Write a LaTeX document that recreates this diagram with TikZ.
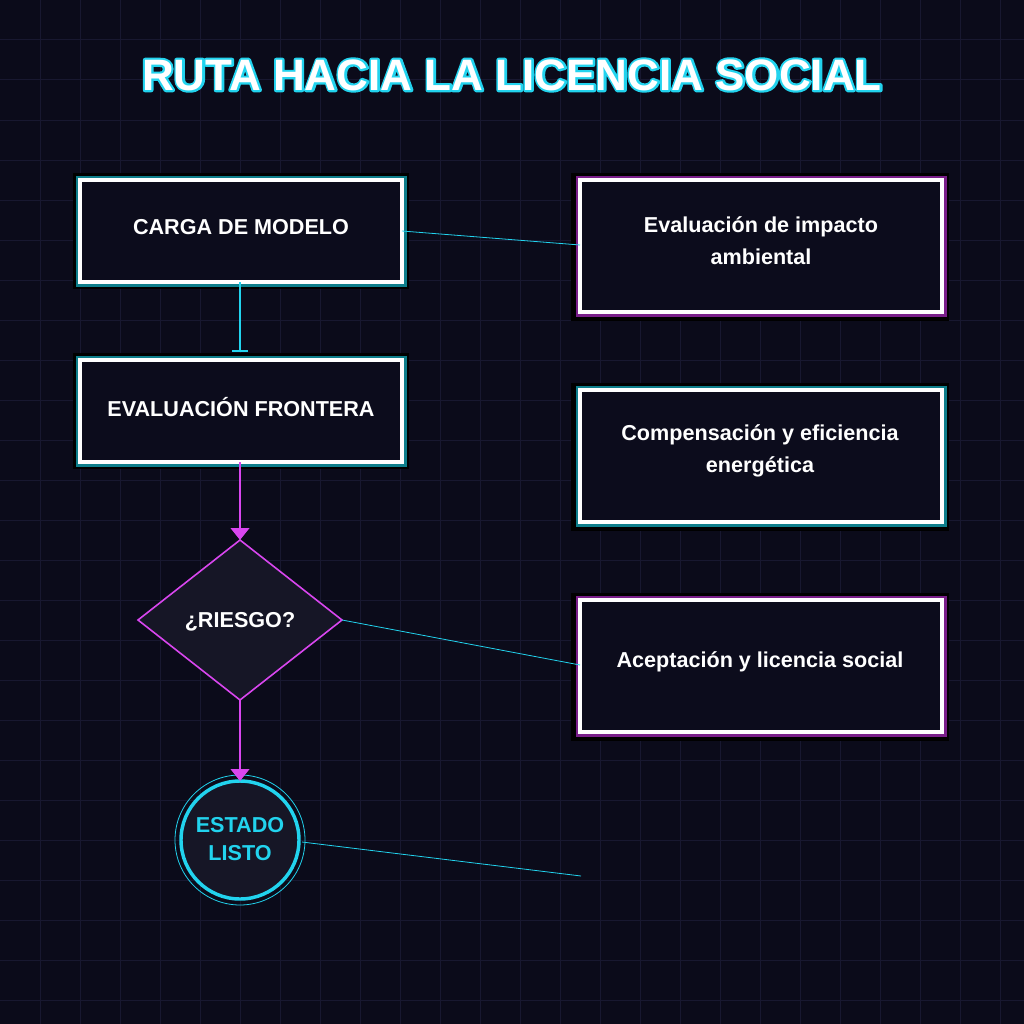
\documentclass[tikz,border=0pt]{standalone}
\usepackage{fontspec}
\setmainfont{Liberation Sans}
\usetikzlibrary{arrows.meta}
\definecolor{bg}{HTML}{0B0B1A}
\definecolor{gridc}{HTML}{181830}
\definecolor{cy}{HTML}{22D3EE}
\definecolor{tealg}{HTML}{0E7F8C}
\definecolor{mg}{HTML}{D946EF}
\definecolor{mgg}{HTML}{7A1F8A}
\definecolor{boxf}{HTML}{0C0C1C}
\definecolor{dfill}{HTML}{161626}
\tikzset{
  x=0.75pt,y=-0.75pt,
  glowc/.style={draw=black,line width=3pt,fill=black},
  glowt/.style={draw=tealg,line width=3pt},
  glowm/.style={draw=mgg,line width=3pt},
  wbox/.style={draw=white,line width=2.5pt,fill=boxf},
  lbl/.style={text=white,font=\bfseries\fontsize{16.2}{24}\selectfont,align=center},
  cline/.style={draw=cy,line width=0.6pt},
}
\begin{document}
\begin{tikzpicture}
\useasboundingbox (0,0) rectangle (1024,1024);
\fill[bg] (0,0) rectangle (1024,1024);
\foreach \i in {40,80,...,1000}{
  \draw[gridc,line width=0.75pt] (\i,0) -- (\i,1024);
  \draw[gridc,line width=0.75pt] (0,\i) -- (1024,\i);
}
% title: cyan stroke behind, white fill on top
\node[font=\bfseries\fontsize{33}{36}\selectfont] (title) at (512,75) {\special{pdf:code q 1 Tr 3.2 w 1 j 0.133 0.827 0.933 RG}RUTA HACIA LA LICENCIA SOCIAL\special{pdf:code Q}};
\node[text=white,font=\bfseries\fontsize{33}{36}\selectfont] at (512,75) {\phantom{}\rlap{}RUTA HACIA LA LICENCIA SOCIAL};
% left boxes
\foreach \ya/\yb in {177/285,357/465}{
  \draw[glowc] (75,\ya-2) rectangle (407,\yb+2);
  \draw[glowt] (77.5,\ya+0.5) rectangle (404.5,\yb-0.5);
}
\draw[wbox] (80,180) rectangle (402,282);
\node[lbl] (a) at (241,227) {CARGA DE MODELO};
\coordinate (aR) at (402,231); \coordinate (aB) at (240,282);
\draw[wbox] (80,360) rectangle (402,462);
\node[lbl] (b) at (241,407) {EVALUACIÓN FRONTERA};
\coordinate (bT) at (240,352); \coordinate (bB) at (240,462);
% right boxes
\draw[glowc] (573,175) rectangle (947,319);
\draw[glowm] (577.5,177.5) rectangle (944.5,314.5);
\draw[wbox] (580,180) rectangle (942,312);
\node[lbl] (r1) at (761,241) {Evaluación de impacto\\ambiental};
\coordinate (r1L) at (580,245);
\draw[glowc] (573,385) rectangle (947,529);
\draw[glowt] (577.5,387.5) rectangle (944.5,524.5);
\draw[wbox] (580,390) rectangle (942,522);
\node[lbl] (r2) at (760,451) {Compensación y eficiencia\\energética};
\draw[glowc] (573,595) rectangle (947,739);
\draw[glowm] (577.5,597.5) rectangle (944.5,734.5);
\draw[wbox] (580,600) rectangle (942,732);
\node[lbl] (r3) at (760,662) {Aceptación y licencia social};
\coordinate (r3L) at (580,665);
% diamond
\draw[mg,line width=1.2pt,fill=dfill] (240,540) -- (342,620) -- (240,700) -- (138,620) -- cycle;
\node[lbl] (d) at (240,622) {¿RIESGO?};
\coordinate (dT) at (240,540); \coordinate (dR) at (342,620); \coordinate (dB) at (240,700);
% circle
\draw[cy,line width=0.6pt] (240,840) circle (65);
\draw[cy,line width=2.6pt,fill=dfill] (240,840) circle (59);
\node[text=cy,font=\bfseries\fontsize{16.2}{21}\selectfont,align=center] (c) at (240,839) {ESTADO\\LISTO};
\coordinate (cT) at (240,781); \coordinate (cR) at (302,842);
\coordinate (free) at (581,876);
% connectors
\draw[cy,line width=1.6pt,-{Bar[width=12pt]}] (aB) -- (bT);
\draw[mg,line width=1.6pt,-{Triangle[width=14pt,length=9pt]}] (bB) -- (dT);
\draw[mg,line width=1.6pt,-{Triangle[width=14pt,length=9pt]}] (dB) -- (cT);
\draw[cline] (aR) -- (r1L);
\draw[cline] (dR) -- (r3L);
\draw[cline] (cR) -- (free);
\end{tikzpicture}
\end{document}
